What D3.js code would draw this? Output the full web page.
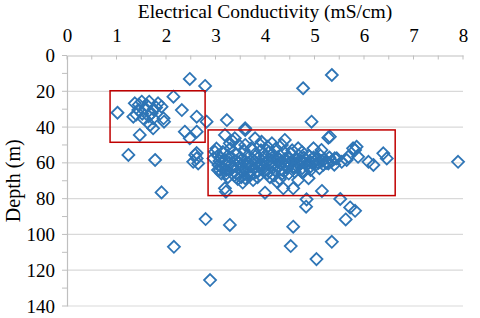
<!DOCTYPE html>
<html>
	<head>
		<meta charset="UTF-8">
		<script src='https://d3js.org/d3.v7.min.js'></script>
		<style>
			body { margin: 0; background: #fff; }
			svg text { font-family: "Liberation Serif", "Times New Roman", serif !important; fill: #000; }
		</style>
	</head>
	<body>
		<svg width=480 height=318></svg>
		<script>

			// shallow group (upper left box)
			var shallowEC    = [1.02, 1.37, 1.51, 1.66, 1.84, 1.91, 1.44, 1.58, 1.71, 1.34, 1.54, 1.74, 1.95, 1.68, 1.47, 2.15, 2.32, 2.62, 2.38, 2.62, 2.48, 1.45, 1.62, 1.75, 1.52, 1.65, 1.80, 1.40, 1.74, 1.96];
			var shallowDepth = [32.0, 26.7, 25.8, 25.8, 26.7, 28.6, 30.5, 29.5, 32.3, 34.2, 35.1, 35.1, 35.1, 38.8, 44.4, 23.0, 30.5, 34.2, 42.6, 42.6, 46.3, 27.5, 28.0, 30.0, 32.5, 34.0, 29.0, 33.0, 40.7, 37.0];

			// main group (large box)
			var mainEC = [3.02, 3.05, 3.08, 3.10, 3.12, 3.15, 3.18, 3.20, 3.22, 3.25, 3.28, 3.30, 3.32, 3.35, 3.38, 3.40, 3.42, 3.45, 3.47, 3.50,
				3.52, 3.55, 3.57, 3.60, 3.62, 3.65, 3.67, 3.70, 3.72, 3.75, 3.77, 3.80, 3.82, 3.85, 3.87, 3.90, 3.92, 3.95, 3.97, 4.00,
				4.02, 4.05, 4.08, 4.10, 4.12, 4.15, 4.18, 4.20, 4.22, 4.25, 4.28, 4.30, 4.32, 4.35, 4.38, 4.40, 4.42, 4.45, 4.48, 4.50,
				4.52, 4.55, 4.58, 4.60, 4.62, 4.65, 4.68, 4.70, 4.72, 4.75, 4.78, 4.80, 4.82, 4.85, 4.88, 4.90, 4.92, 4.95, 4.98, 5.00,
				5.02, 5.05, 5.08, 5.10, 5.12, 5.15, 5.18, 5.20, 5.25, 5.30, 5.35, 5.40,
				3.25, 3.45, 3.55, 3.85, 4.10, 4.30, 3.35, 3.60, 3.90, 4.05, 4.55, 4.75, 3.10, 3.48, 3.70, 3.95, 4.25, 4.45, 4.65, 3.15, 3.58, 4.00, 4.35, 4.15,
				3.19, 3.60, 3.39, 3.29, 3.80, 3.93, 4.14, 4.40, 4.34, 4.67, 4.98, 5.14, 5.28, 2.99, 2.96, 3.06, 3.09, 3.33,
				5.41, 5.68, 5.85, 5.82, 5.88, 6.09, 6.39, 6.46, 5.55, 5.28, 5.65, 5.45, 6.19, 5.78,
				4.88, 4.74, 3.19, 3.60, 3.76, 3.66, 4.24, 4.37, 4.57, 4.67, 3.23,
				3.05, 3.22, 3.42, 3.52, 3.68, 3.78, 3.88, 4.08, 4.18, 4.28, 4.48, 4.58, 4.78, 4.92];
			var mainDepth = [52, 56, 59, 62, 66, 54, 58, 61, 64, 56, 60, 52, 57, 62, 67, 55, 59, 63, 50, 57,
				61, 65, 53, 59, 62, 56, 60, 67, 52, 58, 63, 55, 60, 65, 57, 61, 53, 59, 63, 56,
				60, 66, 54, 58, 62, 57, 60, 64, 52, 59, 62, 56, 60, 66, 54, 58, 61, 63, 57, 60,
				55, 59, 62, 65, 58, 60, 56, 61, 59, 63, 57, 60, 58, 61, 56, 59, 62, 60, 57, 59,
				61, 58, 60, 63, 56, 59, 61, 58, 60, 57, 59, 61,
				68, 69, 71, 68, 68, 69, 48, 50, 50, 51, 53, 54, 57, 60, 62, 61, 57, 59, 62, 63, 64, 64, 64, 55,
				44.4, 41.6, 46.3, 49.1, 46.3, 48.2, 49.1, 47.2, 50.0, 51.9, 51.9, 52.8, 45.9, 53.8, 57.5, 61.2, 64.0, 63.1,
				57.5, 56.6, 51.0, 52.8, 56.6, 59.4, 54.7, 57.5, 59.4, 60.3, 58.4, 57.5, 61.2, 51.9,
				68.6, 65.0, 74.2, 68.6, 69.6, 65.8, 70.5, 74.2, 74.2, 69.6, 36.1,
				64, 66, 66, 68, 65, 66, 62, 65, 67, 58, 66, 63, 65, 64];

			// scattered readings outside the boxes
			var otherEC    = [1.91, 3.21, 2.80, 3.29, 2.16, 2.89, 4.00, 4.84, 4.83, 5.15, 5.52, 5.72, 5.82, 5.63, 4.57, 4.52, 5.35, 5.04, 2.48, 2.79, 5.35, 4.77, 4.94, 2.82, 3.60, 5.31, 7.90, 2.59, 2.55, 2.65, 2.62, 2.62, 1.78, 1.24];
			var otherDepth = [76.5, 76.1, 91.4, 94.7, 106.9, 125.5, 76.7, 80.4, 84.5, 75.7, 80.2, 84.9, 86.8, 91.6, 95.7, 106.5, 104.1, 113.8, 13.1, 17.0, 10.9, 18.3, 37.0, 37.0, 40.7, 45.4, 59.4, 55.6, 59.4, 60.3, 57.5, 54.5, 58.4, 55.6];

			// highlight boxes [ec from, ec to, depth from, depth to]
			var boxes = [[0.87, 2.79, 19.7, 48.5], [2.85, 6.63, 41.6, 78.3]];

			var xTicks = [0, 1, 2, 3, 4, 5, 6, 7, 8];
			var yTicks = [0, 20, 40, 60, 80, 100, 120, 140];

			var marginLeft = 67, marginTop = 55.5, plotW = 396, plotH = 250.5;
			var serif = '"Liberation Serif", "Times New Roman", serif';

			var x = d3.scaleLinear().domain([0, 8]).range([0, plotW]);
			var y = d3.scaleLinear().domain([0, 140]).range([0, plotH]);

			var svg = d3.select('svg');
			var g = svg.append('g').attr('transform', 'translate(' + marginLeft + ',' + marginTop + ')');

			// gridlines
			g.selectAll('.grid').data(yTicks.slice(1)).enter().append('line')
				.attr('x1', 0).attr('x2', plotW)
				.attr('y1', y).attr('y2', y)
				.attr('stroke', '#d9d9d9').attr('stroke-width', 1.2);

			// top axis
			var xAxis = g.append('g').call(d3.axisTop(x).tickValues(xTicks).tickSize(0).tickPadding(14));
			xAxis.attr('font-family', serif).attr('font-size', 19);
			xAxis.selectAll('text').style('font-family', serif).attr('fill', '#000');
			xAxis.select('.domain').attr('stroke', '#bfbfbf').attr('stroke-width', 1.2);
			g.selectAll('.xminor').data(d3.range(0, 8.01, 0.5)).enter().append('line')
				.attr('x1', x).attr('x2', x).attr('y1', 0).attr('y2', 4)
				.attr('stroke', '#bfbfbf');

			// left axis
			var yAxis = g.append('g').call(d3.axisLeft(y).tickValues(yTicks).tickSize(0).tickPadding(12));
			yAxis.attr('font-family', serif).attr('font-size', 19);
			yAxis.selectAll('text').style('font-family', serif).attr('fill', '#000');
			yAxis.select('.domain').attr('stroke', '#bfbfbf').attr('stroke-width', 1.2);
			g.selectAll('.yminor').data(d3.range(0, 140.1, 10)).enter().append('line')
				.attr('x1', -5).attr('x2', 0).attr('y1', y).attr('y2', y)
				.attr('stroke', '#bfbfbf');

			// titles
			svg.append('text').attr('x', marginLeft + plotW / 2).attr('y', 18)
				.attr('text-anchor', 'middle').style('font-size', '19.5px')
				.text('Electrical Conductivity (mS/cm)');
			svg.append('text').attr('transform', 'translate(20,' + (marginTop + plotH / 2) + ') rotate(-90)')
				.attr('text-anchor', 'middle').style('font-size', '20px')
				.text('Depth (m)');

			var allEC = shallowEC.concat(mainEC, otherEC);
			var allDepth = shallowDepth.concat(mainDepth, otherDepth);
			var points = allEC.map(function(v, i) { return [v, allDepth[i]]; });

			g.selectAll('.pt').data(points).enter().append('path')
				.attr('d', 'M0,-6L6,0L0,6L-6,0Z')
				.attr('transform', function(d) { return 'translate(' + x(d[0]) + ',' + y(d[1]) + ')'; })
				.attr('fill', 'none')
				.attr('stroke', '#2e75b6')
				.attr('stroke-width', 1.8);

			g.selectAll('.box').data(boxes).enter().append('rect')
				.attr('x', function(d) { return x(d[0]); })
				.attr('y', function(d) { return y(d[2]); })
				.attr('width', function(d) { return x(d[1]) - x(d[0]); })
				.attr('height', function(d) { return y(d[3]) - y(d[2]); })
				.attr('fill', 'none')
				.attr('stroke', '#c00000')
				.attr('stroke-width', 1.5);

		</script>
	</body>
</html>
